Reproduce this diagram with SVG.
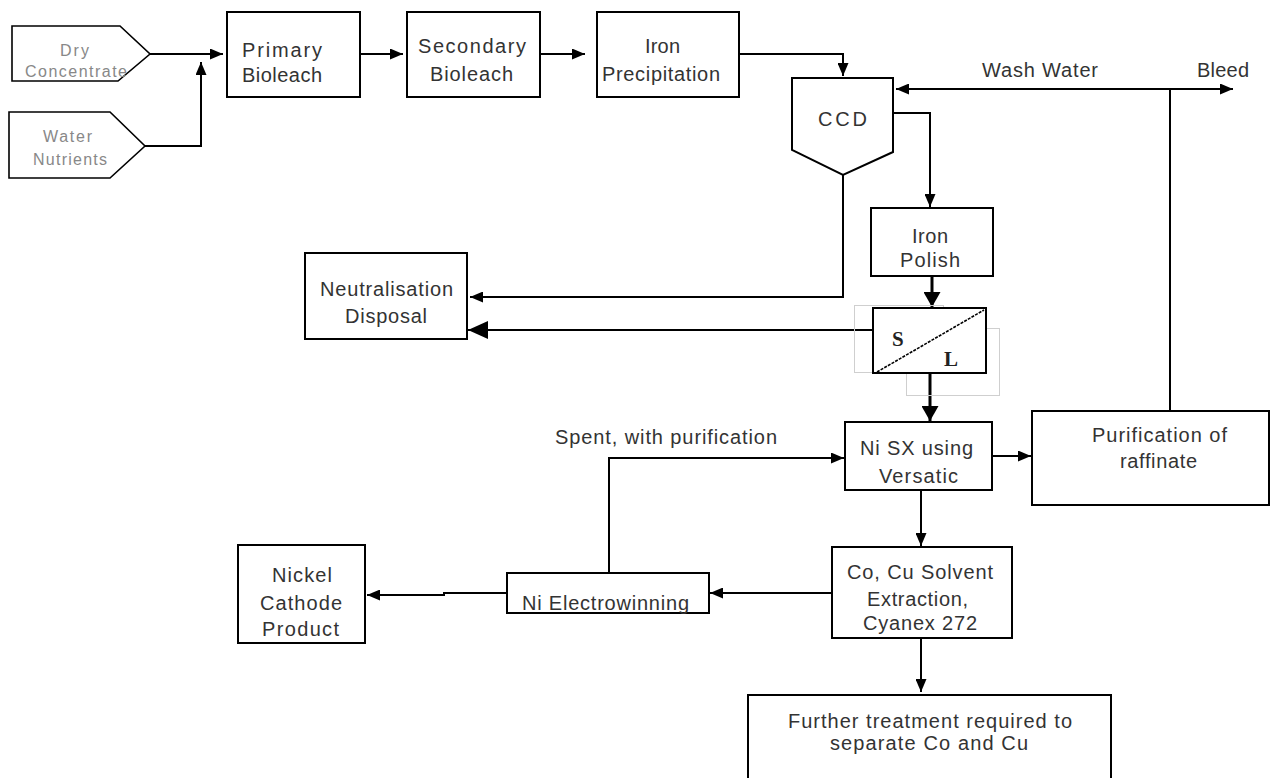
<svg xmlns="http://www.w3.org/2000/svg" width="1271" height="778" viewBox="0 0 1271 778">
<style>
.box{fill:#fff;stroke:#000;stroke-width:2}
.src{fill:#fff;stroke:#000;stroke-width:1.6}
.ln{fill:none;stroke:#000;stroke-width:2}
.thk{fill:none;stroke:#000;stroke-width:3}
.t{font-family:"Liberation Sans",Arial,sans-serif;font-size:20px;fill:#333}
.ts{font-family:"Liberation Sans",Arial,sans-serif;font-size:16px;fill:#888}
.sl{font-family:"Liberation Serif","Times New Roman",serif;font-size:21px;font-weight:bold;fill:#222}
.ghost{fill:none;stroke:#cfcfcf;stroke-width:1}
</style>
<defs>
<marker id="a" markerUnits="userSpaceOnUse" markerWidth="13" markerHeight="11" refX="13" refY="5.5" orient="auto"><path d="M0,0L13,5.5L0,11z" fill="#000"/></marker>
<marker id="b" markerUnits="userSpaceOnUse" markerWidth="20" markerHeight="18" refX="20" refY="9" orient="auto"><path d="M0,0L20,9L0,18z" fill="#000"/></marker>
<marker id="c" markerUnits="userSpaceOnUse" markerWidth="15" markerHeight="17" refX="15" refY="8.5" orient="auto"><path d="M0,0L15,8.5L0,17z" fill="#000"/></marker>
</defs>
<rect width="1271" height="778" fill="#fff"/>

<g id="connectors">
<path class="ln" d="M150,54H223" marker-end="url(#a)"/>
<path class="ln" d="M145,146H201V62" marker-end="url(#a)"/>
<path class="ln" d="M360,54H403" marker-end="url(#a)"/>
<path class="ln" d="M540,54H585" marker-end="url(#a)"/>
<path class="ln" d="M739,54H843V76" marker-end="url(#a)"/>
<path class="ln" d="M1170,411V89"/>
<path class="ln" d="M1170,89H896" marker-end="url(#a)"/>
<path class="ln" d="M1170,89H1233" marker-end="url(#a)"/>
<path class="ln" d="M893,113H930V207" marker-end="url(#a)"/>
<path class="ln" d="M843,175V297H470" marker-end="url(#a)"/>
<path class="thk" d="M932,276V307" marker-end="url(#c)"/>
<path class="ln" d="M873,330H468" marker-end="url(#b)"/>
<path class="thk" d="M930,373V421" marker-end="url(#c)"/>
<path class="ln" d="M992,456H1031" marker-end="url(#a)"/>
<path class="ln" d="M921,490V546" marker-end="url(#a)"/>
<path class="ln" d="M832,593H710" marker-end="url(#a)"/>
<path class="ln" d="M507,593H444V595H367" marker-end="url(#a)"/>
<path class="ln" d="M609,573V458H844" marker-end="url(#a)"/>
<path class="ln" d="M921,638V692" marker-end="url(#a)"/>
</g>

<g id="dry-concentrate">
<path class="src" d="M12,26H120L150,54L118,81H12Z"/>
<text class="ts" x="60" y="56" textLength="29" lengthAdjust="spacing">Dry</text>
<text class="ts" x="25" y="77" textLength="102" lengthAdjust="spacing">Concentrate</text>
</g>
<g id="water-nutrients">
<path class="src" d="M9,112H110L145,146L110,178H9Z"/>
<text class="ts" x="43" y="142" textLength="49" lengthAdjust="spacing">Water</text>
<text class="ts" x="33" y="165" textLength="74" lengthAdjust="spacing">Nutrients</text>
</g>
<g id="primary-bioleach">
<rect class="box" x="227" y="12" width="133" height="85"/>
<text class="t" x="242" y="57" textLength="80" lengthAdjust="spacing">Primary</text>
<text class="t" x="242" y="82" textLength="80" lengthAdjust="spacing">Bioleach</text>
</g>
<g id="secondary-bioleach">
<rect class="box" x="407" y="12" width="133" height="85"/>
<text class="t" x="418" y="53" textLength="108" lengthAdjust="spacing">Secondary</text>
<text class="t" x="430" y="81" textLength="83" lengthAdjust="spacing">Bioleach</text>
</g>
<g id="iron-precipitation">
<rect class="box" x="597" y="12" width="142" height="85"/>
<text class="t" x="645" y="53" textLength="35" lengthAdjust="spacing">Iron</text>
<text class="t" x="602" y="81" textLength="118" lengthAdjust="spacing">Precipitation</text>
</g>
<g id="ccd">
<path class="box" d="M792,78H893V152L843,175L792,150Z"/>
<text class="t" x="818" y="126" textLength="49" lengthAdjust="spacing">CCD</text>
</g>
<g id="wash-water-label">
<text class="t" x="982" y="77" textLength="116" lengthAdjust="spacing">Wash Water</text>
</g>
<g id="bleed-label">
<text class="t" x="1197" y="77" textLength="52" lengthAdjust="spacing">Bleed</text>
</g>
<g id="iron-polish">
<rect class="box" x="871" y="208" width="122" height="68"/>
<text class="t" x="912" y="243" textLength="36" lengthAdjust="spacing">Iron</text>
<text class="t" x="900" y="267" textLength="60" lengthAdjust="spacing">Polish</text>
</g>
<g id="neutralisation-disposal">
<rect class="box" x="305" y="253" width="162" height="86"/>
<text class="t" x="320" y="296" textLength="133" lengthAdjust="spacing">Neutralisation</text>
<text class="t" x="345" y="323" textLength="82" lengthAdjust="spacing">Disposal</text>
</g>
<g id="solid-liquid-separator">
<rect class="ghost" x="854.5" y="305.5" width="89" height="67"/>
<rect class="ghost" x="906.5" y="328.5" width="93" height="67"/>
<rect class="box" x="873" y="308" width="113" height="65"/>
<path d="M877,372L984,310" fill="none" stroke="#000" stroke-width="1.6" stroke-dasharray="3 1.2"/>
<text class="sl" x="892" y="346">S</text>
<text class="sl" x="944" y="366">L</text>
</g>
<g id="spent-label">
<text class="t" x="555" y="444" textLength="222" lengthAdjust="spacing">Spent, with purification</text>
</g>
<g id="ni-sx">
<rect class="box" x="845" y="422" width="147" height="68"/>
<text class="t" x="860" y="455" textLength="113" lengthAdjust="spacing">Ni SX using</text>
<text class="t" x="879" y="483" textLength="79" lengthAdjust="spacing">Versatic</text>
</g>
<g id="purification-of-raffinate">
<rect class="box" x="1032" y="411" width="237" height="94"/>
<text class="t" x="1092" y="442" textLength="135" lengthAdjust="spacing">Purification of</text>
<text class="t" x="1120" y="468" textLength="77" lengthAdjust="spacing">raffinate</text>
</g>
<g id="co-cu-sx">
<rect class="box" x="832" y="547" width="180" height="91"/>
<text class="t" x="847" y="579" textLength="146" lengthAdjust="spacing">Co, Cu Solvent</text>
<text class="t" x="867" y="606" textLength="101" lengthAdjust="spacing">Extraction,</text>
<text class="t" x="863" y="630" textLength="114" lengthAdjust="spacing">Cyanex 272</text>
</g>
<g id="ni-electrowinning">
<rect class="box" x="507" y="573" width="202" height="40"/>
<text class="t" x="522" y="610" textLength="167" lengthAdjust="spacing">Ni Electrowinning</text>
</g>
<g id="nickel-cathode-product">
<rect class="box" x="238" y="545" width="127" height="98"/>
<text class="t" x="272" y="582" textLength="60" lengthAdjust="spacing">Nickel</text>
<text class="t" x="260" y="610" textLength="82" lengthAdjust="spacing">Cathode</text>
<text class="t" x="262" y="636" textLength="77" lengthAdjust="spacing">Product</text>
</g>
<g id="further-treatment">
<rect class="box" x="748" y="695" width="363" height="110"/>
<text class="t" x="788" y="728" textLength="284" lengthAdjust="spacing">Further treatment required to</text>
<text class="t" x="830" y="750" textLength="198" lengthAdjust="spacing">separate Co and Cu</text>
</g>
</svg>
